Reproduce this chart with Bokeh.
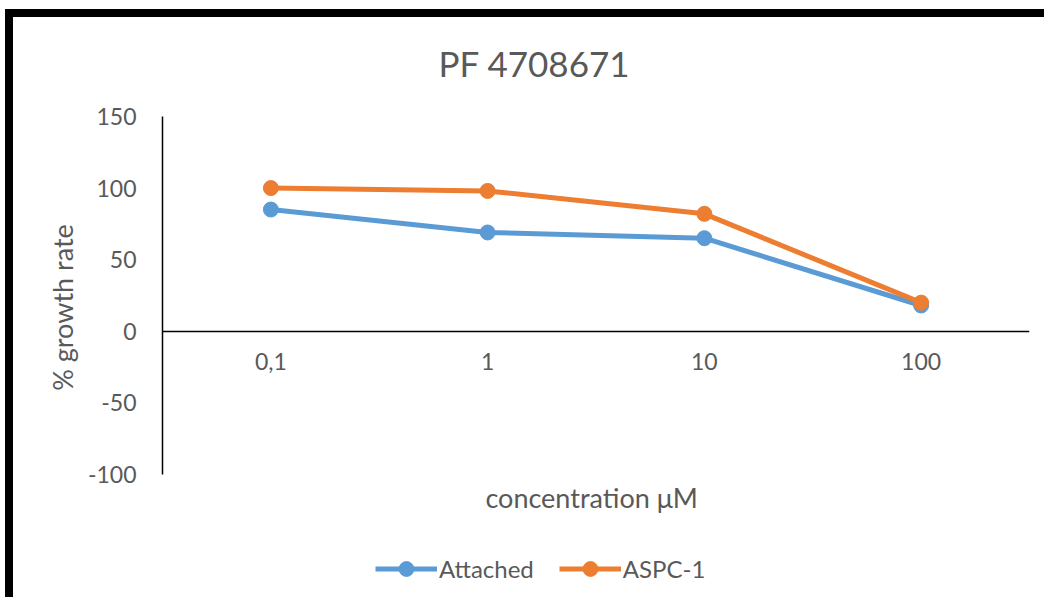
from bokeh.plotting import figure
from bokeh.models import Range1d, FactorRange, Legend, LegendItem, FixedTicker, Label, Spacer
from bokeh.layouts import column, row
from bokeh.embed import file_html
from bokeh.resources import INLINE

categories = ["0,1", "1", "10", "100"]
attached = [85, 69, 65, 18]
aspc1 = [100, 98, 82, 20]
y_ticks = [-100, -50, 0, 50, 100, 150]

TEXT = "#595959"
FONT = "Lato"
BLUE = "#5B9BD5"
ORANGE = "#ED7D31"

p = figure(width=1031, height=580,
           x_range=FactorRange(*categories, range_padding=0),
           y_range=Range1d(-185.9, 219.1),
           output_backend="svg", toolbar_location=None,
           min_border_left=149, min_border_right=15,
           min_border_top=0, min_border_bottom=0)
p.title.text = ""
p.outline_line_color = None
p.grid.grid_line_color = None

# y axis (line limited to -100..150)
p.yaxis.bounds = (-100, 150)
p.yaxis.ticker = FixedTicker(ticks=y_ticks)
p.yaxis.major_label_overrides = {t: str(t) for t in y_ticks}
p.yaxis.axis_line_color = "black"
p.yaxis.axis_line_width = 1.5
p.yaxis.major_tick_line_color = None
p.yaxis.minor_tick_line_color = None
p.yaxis.major_label_standoff = 20
p.yaxis.major_label_text_font_size = "23px"
p.yaxis.major_label_text_color = TEXT
p.yaxis.major_label_text_font = FONT
p.yaxis.axis_label = "% growth rate"
p.yaxis.axis_label_text_font_size = "27px"
p.yaxis.axis_label_text_color = TEXT
p.yaxis.axis_label_text_font = FONT
p.yaxis.axis_label_text_font_style = "normal"
p.yaxis.axis_label_standoff = 6

# x axis at zero
p.xaxis.fixed_location = 0
p.xaxis.axis_line_color = "black"
p.xaxis.axis_line_width = 1.5
p.xaxis.major_tick_line_color = None
p.xaxis.minor_tick_line_color = None
p.xaxis.major_label_standoff = 16
p.xaxis.major_label_text_font_size = "23px"
p.xaxis.major_label_text_color = TEXT
p.xaxis.major_label_text_font = FONT

# chart title and x-axis title
p.add_layout(Label(x=1.716, y=187.6, text="PF 4708671", text_align="center",
                   text_baseline="middle", text_font_size="35px",
                   text_color=TEXT, text_font=FONT))
p.add_layout(Label(x=1.98, y=-116.2, text="concentration μM", text_align="center",
                   text_baseline="middle", text_font_size="27px",
                   text_color=TEXT, text_font=FONT))

l1 = p.line(categories, attached, line_color=BLUE, line_width=5)
c1 = p.scatter(categories, attached, marker="circle", size=15, fill_color=BLUE, line_color=BLUE)
l2 = p.line(categories, aspc1, line_color=ORANGE, line_width=5)
c2 = p.scatter(categories, aspc1, marker="circle", size=15, fill_color=ORANGE, line_color=ORANGE)

legend = Legend(items=[LegendItem(label="Attached", renderers=[l1, c1]),
                       LegendItem(label="ASPC-1", renderers=[l2, c2])],
                orientation="horizontal", location=(213, 10),
                padding=0, margin=0, spacing=25, glyph_width=62, glyph_height=37,
                label_standoff=2, label_text_font_size="24px",
                label_text_color=TEXT, label_text_font=FONT,
                border_line_color=None, background_fill_alpha=0)
p.add_layout(legend, "center")

top_gap = Spacer(width=1044, height=9)
left_gap = Spacer(width=5, height=588)
top_bar = Spacer(width=1039, height=8, styles={"background-color": "black"})
left_bar = Spacer(width=8, height=580, styles={"background-color": "black"})
layout = column(top_gap,
                row(left_gap,
                    column(top_bar, row(left_bar, p, spacing=0), spacing=0),
                    spacing=0),
                spacing=0)

open("out.html", "w").write(file_html(layout, INLINE))
